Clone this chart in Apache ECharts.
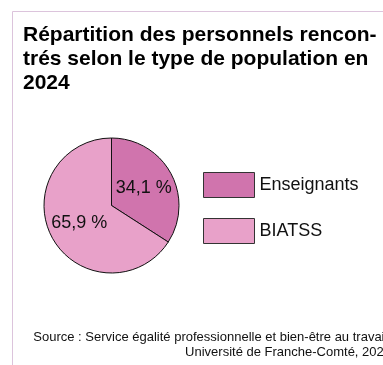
<!DOCTYPE html>
<html>
<head>
<meta charset="utf-8">
<script src="https://cdn.jsdelivr.net/npm/echarts@6/dist/echarts.min.js"></script>
<style>
  html, body { margin: 0; padding: 0; background: #fff; }
  #chart { width: 383px; height: 365px; }
</style>
</head>
<body>
<div id="chart"></div>
<script>
// Population groups and their share of staff met (%)
const categories = ['Enseignants', 'BIATSS'];
const shares = [34.1, 65.9];
const colors = ['#d074ad', '#e8a1c9'];

const titleText = 'Répartition des personnels rencon-\ntrés selon le type de population en\n2024';
const sourceLines = [
  'Source : Service égalité professionnelle et bien-être au travail,',
  'Université de Franche-Comté, 2024'
];

const fontFamily = '"Liberation Sans", Arial, sans-serif';

const chart = echarts.init(document.getElementById('chart'), null, { renderer: 'canvas' });

// Source note, right-aligned line by line
const sourceGraphics = sourceLines.map((line, i) => ({
  type: 'text',
  style: {
    x: 391,
    y: 331 + i * 15,
    text: line,
    align: 'right',
    verticalAlign: 'alphabetic',
    font: '13px "Liberation Sans", Arial, sans-serif',
    fill: '#111'
  }
}));

chart.setOption({
  animation: false,
  backgroundColor: '#fff',
  title: {
    text: titleText,
    left: 23,
    top: 23,
    padding: 0,
    textStyle: {
      fontFamily,
      fontSize: 21,
      fontWeight: 'bold',
      lineHeight: 24,
      color: '#000'
    }
  },
  legend: {
    orient: 'vertical',
    left: 203,
    top: 172,
    padding: 0,
    itemWidth: 51,
    itemHeight: 25,
    itemGap: 20,
    itemTextGap: 10,
    icon: 'rect',
    data: categories,
    itemStyle: { borderColor: '#333', borderWidth: 1 },
    textStyle: { fontFamily, fontSize: 18, color: '#111' }
  },
  graphic: [
    { type: 'line', shape: { x1: 12.5, y1: 11.5, x2: 383, y2: 11.5 }, style: { stroke: '#dcc4dc', lineWidth: 1 } },
    { type: 'line', shape: { x1: 12.5, y1: 11.5, x2: 12.5, y2: 365 }, style: { stroke: '#dcc4dc', lineWidth: 1 } }
  ].concat(sourceGraphics),
  series: [{
    type: 'pie',
    center: [111.5, 205.5],
    radius: 67.5,
    startAngle: 90,
    clockwise: true,
    silent: true,
    itemStyle: { borderColor: '#111', borderWidth: 1 },
    label: {
      position: 'inside',
      fontFamily,
      fontSize: 18,
      color: '#111',
      formatter: p => String(p.value).replace('.', ',') + ' %'
    },
    labelLine: { show: false },
    data: categories.map((name, i) => ({ name, value: shares[i], itemStyle: { color: colors[i] } }))
  }]
});
</script>
</body>
</html>
